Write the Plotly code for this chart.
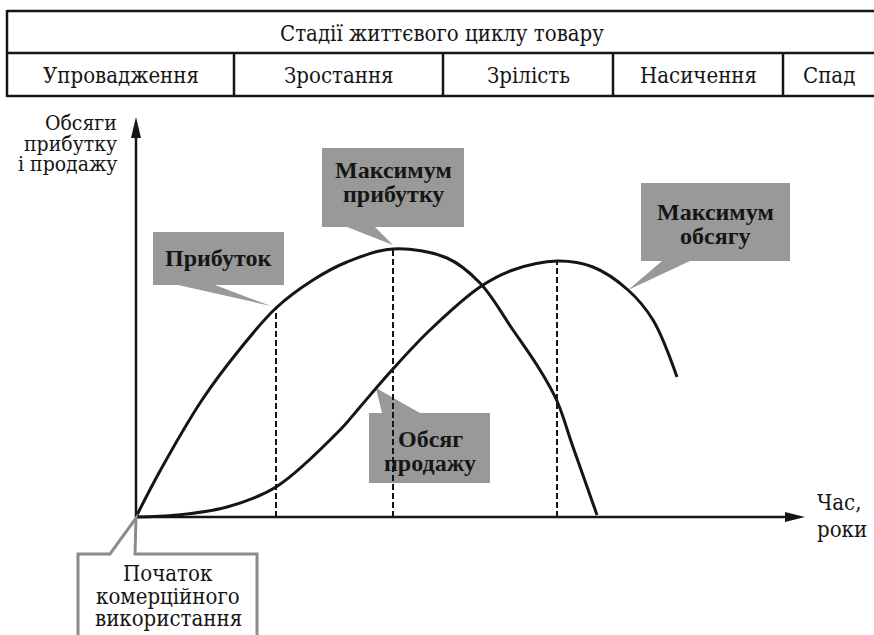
import plotly.graph_objects as go

# ---------------- data ----------------
table_title = "Стадії життєвого циклу товару"
stages = ["Упровадження", "Зростання", "Зрілість", "Насичення", "Спад"]

# Profit curve (time units, volume units)
profit_t = [0, 2.4, 6.6, 10.4, 14.0, 17.7, 21.1, 25.7, 31.1, 34.4, 37.7, 40.4, 42.1, 43.7, 46.1]
profit_v = [0, 4.6, 11.7, 16.8, 20.9, 23.7, 25.5, 26.8, 25.9, 23.4, 18.7, 14.7, 11.6, 7.0, 0.2]

# Sales volume curve
sales_t = [0, 4.1, 9.1, 14.0, 20.4, 22.4, 25.6, 29.4, 34.4, 37.7, 42.1, 45.7, 49.2, 51.7, 54.1]
sales_v = [0, 0.2, 1.0, 3.0, 8.7, 11.0, 14.7, 18.7, 23.0, 24.7, 25.6, 25.0, 22.7, 19.7, 14.0]

# Vertical dashed guides (time, height reached)
guide_t = [14.0, 25.7, 42.1]
guide_v = [20.9, 26.8, 25.6]

y_label = ["Обсяги", "прибутку", "і продажу"]
x_label = ["Час,", "роки"]
start_label = ["Початок", "комерційного", "використання"]
callout_profit = ["Прибуток"]
callout_max_profit = ["Максимум", "прибутку"]
callout_max_sales = ["Максимум", "обсягу"]
callout_sales = ["Обсяг", "продажу"]

# ---------------- layout helpers (pixel -> data) ----------------
W, H = 874, 635
OX, OY, S = 136, 517, 10.0


def X(px):
    return (px - OX) / S


def Y(py):
    return (OY - py) / S


def path(points, close=True):
    s = "M " + " L ".join(f"{X(a):.3f},{Y(b):.3f}" for a, b in points)
    return s + (" Z" if close else "")


INK = "#151515"
GREY = "#999999"
SERIF_B = "Liberation Serif"
SERIF_R = "DejaVu Serif Condensed, DejaVu Serif, serif"

fig = go.Figure()

# dashed guides
gx, gy = [], []
for t, v in zip(guide_t, guide_v):
    gx += [t, t, None]
    gy += [0, v, None]
fig.add_trace(go.Scatter(x=gx, y=gy, mode="lines",
                         line=dict(color=INK, width=2, dash="6px,3px"),
                         hoverinfo="skip"))

fig.add_trace(go.Scatter(x=profit_t, y=profit_v, mode="lines", name="Прибуток",
                         line=dict(color=INK, width=3, shape="spline", smoothing=1.0)))
fig.add_trace(go.Scatter(x=sales_t, y=sales_v, mode="lines", name="Обсяг продажу",
                         line=dict(color=INK, width=3, shape="spline", smoothing=1.0)))

shapes = []
# table
tl = dict(color=INK, width=2.5)
for py in (11, 53, 96):
    shapes.append(dict(type="line", x0=X(7), x1=X(874), y0=Y(py), y1=Y(py), line=tl))
shapes.append(dict(type="line", x0=X(7), x1=X(7), y0=Y(10), y1=Y(97), line=tl))
col_edges = [7, 234, 443, 613, 783, 874]
for cx in col_edges[1:-1]:
    shapes.append(dict(type="line", x0=X(cx), x1=X(cx), y0=Y(53), y1=Y(96), line=tl))

# axes
al = dict(color=INK, width=2.5)
shapes.append(dict(type="line", x0=0, x1=0, y0=0, y1=Y(134), line=al))
shapes.append(dict(type="line", x0=0, x1=X(788), y0=0, y1=0, line=al))
shapes.append(dict(type="path", path=path([(136, 117), (131, 138), (141, 138)]),
                   fillcolor=INK, line=dict(width=0)))
shapes.append(dict(type="path", path=path([(805, 517), (785, 512), (785, 522)]),
                   fillcolor=INK, line=dict(width=0)))

# grey callouts
callouts = [
    [(153, 232), (284, 232), (284, 285), (215, 285), (271, 306), (178, 285), (153, 285)],
    [(322, 148), (464, 148), (464, 227), (375, 227), (393, 245), (347, 227), (322, 227)],
    [(641, 183), (790, 183), (790, 261), (690, 261), (628, 290), (662, 261), (641, 261)],
    [(369, 413), (382, 413), (376, 388), (420, 413), (490, 413), (490, 483), (369, 483)],
]
for pts in callouts:
    shapes.append(dict(type="path", path=path(pts), fillcolor=GREY,
                       line=dict(width=0), layer="below"))

# start-of-use outline callout
shapes.append(dict(type="path",
                   path=path([(78, 645), (78, 554), (110, 554), (136, 518), (135, 554),
                              (257, 554), (257, 645)], close=False),
                   fillcolor="rgba(0,0,0,0)", line=dict(color="#8c8c8c", width=3)))

annotations = []


def txt(s, px, py, size=22, bold=False, xanchor="center", color=INK):
    annotations.append(dict(
        text=f"<b>{s}</b>" if bold else s, x=X(px), y=Y(py), xref="x", yref="y",
        showarrow=False, xanchor=xanchor, yanchor="middle",
        font=dict(family=SERIF_B if bold else SERIF_R, size=size, color=color)))


txt(table_title, 442, 33)
for i, s in enumerate(stages):
    txt(s, (col_edges[i] + col_edges[i + 1]) / 2, 75)

for s, py in zip(y_label, (123, 144, 164)):
    txt(s, 119, py, size=21, xanchor="right")
for s, py in zip(x_label, (502, 529)):
    txt(s, 815, py, size=22, xanchor="left")
for s, py in zip(start_label, (573, 596, 618)):
    txt(s, 168, py, size=22)

txt(callout_profit[0], 218, 258, size=24, bold=True)
for s, py in zip(callout_max_profit, (170, 194)):
    txt(s, 393, py, size=24, bold=True)
for s, py in zip(callout_max_sales, (212, 236)):
    txt(s, 715, py, size=24, bold=True)
for s, py in zip(callout_sales, (439, 463)):
    txt(s, 430, py, size=24, bold=True)

fig.update_layout(
    width=W, height=H, autosize=False,
    margin=dict(l=0, r=0, t=0, b=0),
    xaxis=dict(range=[X(0), X(W)], visible=False, fixedrange=True),
    yaxis=dict(range=[Y(H), Y(0)], visible=False, fixedrange=True),
    showlegend=False, plot_bgcolor="white", paper_bgcolor="white",
    shapes=shapes, annotations=annotations,
)

fig.write_html("out.html", config={"displayModeBar": False},
               post_script="document.body.style.margin='0';"
                           "document.body.style.overflow='hidden';")
